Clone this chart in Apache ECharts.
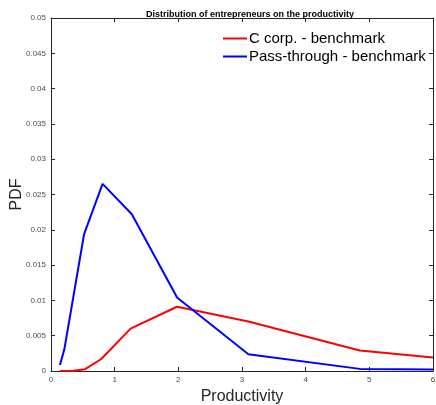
<!DOCTYPE html>
<html>
<head>
<meta charset="utf-8">
<script src="https://cdn.jsdelivr.net/npm/echarts@6/dist/echarts.min.js"></script>
<style>html,body{margin:0;padding:0;background:#fff}#c{width:436px;height:405px}</style>
</head>
<body>
<div id="c"></div>
<script>
var titleText = 'Distribution of entrepreneurs on the productivity';
var xName = 'Productivity';
var yName = 'PDF';
var seriesNames = ['C corp. - benchmark', 'Pass-through - benchmark'];
var cCorpX = [0.14, 0.35, 0.53, 0.79, 1.25, 1.98, 3.10, 4.85, 6.0];
var cCorpY = [0.0, 0.00005, 0.00024, 0.0017, 0.0060, 0.0091, 0.0070, 0.0029, 0.0019];
var passX = [0.14, 0.21, 0.52, 0.81, 1.27, 1.98, 3.10, 4.85, 6.0];
var passY = [0.00085, 0.0031, 0.0194, 0.0265, 0.0222, 0.0104, 0.00236, 0.0003, 0.0002];

function pairs(xs, ys){ return xs.map(function(x,i){ return [x, ys[i]]; }); }

var axisCol = '#262626';
var chart = echarts.init(document.getElementById('c'), null, {renderer:'canvas'});
var common = {
  axisLine:{show:true, onZero:false, lineStyle:{color:axisCol, width:1}},
  axisTick:{show:true, inside:true, length:4, lineStyle:{color:axisCol}},
  splitLine:{show:false}
};
chart.setOption({
  animation:false,
  title:{text:titleText, left:245, top:5, textAlign:'center',
    textStyle:{fontFamily:'Liberation Sans, Arial', fontSize:9, fontWeight:'bold', color:'#000'}},
  grid:{left:51, right:3, top:18, bottom:34, containLabel:false, outerBoundsMode:'none'},
  legend:{orient:'vertical', left:223, top:31, itemWidth:24, itemHeight:2, itemGap:3, padding:0,
    icon:'rect',
    textStyle:{fontFamily:'Liberation Sans, Arial', fontSize:15, color:'#000', padding:[0,0,0,-3]},
    data:seriesNames},
  xAxis:[
    Object.assign({type:'value', min:0, max:6, interval:1, name:xName, nameLocation:'middle', nameGap:18,
      nameTextStyle:{fontFamily:'Liberation Sans, Arial', fontSize:16, color:'#262626'},
      axisLabel:{fontFamily:'Liberation Sans, Arial', fontSize:8, color:'#4d4d4d', margin:5}}, common),
    Object.assign({type:'value', min:0, max:6, interval:1, position:'top', axisLabel:{show:false}}, common)
  ],
  yAxis:[
    Object.assign({type:'value', min:0, max:0.05, interval:0.005, name:yName, nameLocation:'middle', nameGap:34,
      nameMoveOverlap:false,
      nameTextStyle:{fontFamily:'Liberation Sans, Arial', fontSize:16, color:'#262626', verticalAlign:'middle'},
      axisLabel:{fontFamily:'Liberation Sans, Arial', fontSize:8, color:'#4d4d4d', margin:5}}, common),
    Object.assign({type:'value', min:0, max:0.05, interval:0.005, position:'right', axisLabel:{show:false}}, common)
  ],
  series:[
    {name:seriesNames[0], type:'line', data:pairs(cCorpX, cCorpY), symbol:'none', showSymbol:false,
      lineStyle:{color:'#ff0000', width:2}, itemStyle:{color:'#ff0000'}},
    {name:seriesNames[1], type:'line', data:pairs(passX, passY), symbol:'none', showSymbol:false,
      lineStyle:{color:'#0000ff', width:2}, itemStyle:{color:'#0000ff'}}
  ]
});
</script>
</body>
</html>
